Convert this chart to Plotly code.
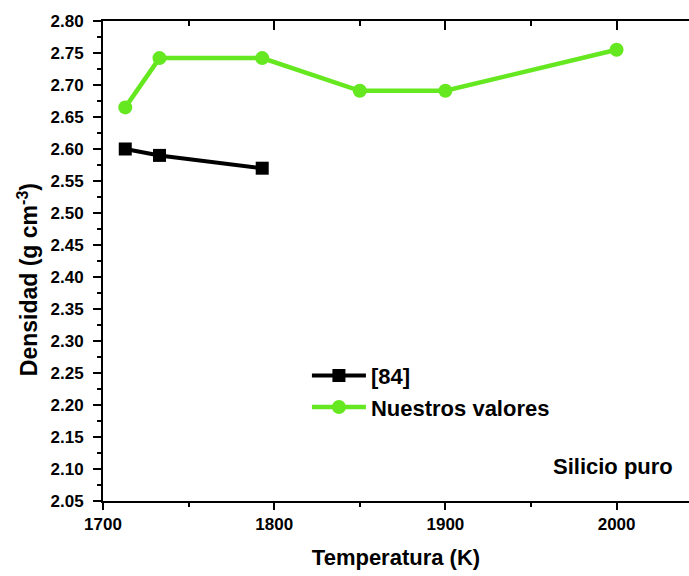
import plotly.graph_objects as go

# Density of pure silicon versus temperature
temp_ref84 = [1713, 1733, 1793]
dens_ref84 = [2.600, 2.590, 2.570]

temp_ours = [1713, 1733, 1793, 1850, 1900, 2000]
dens_ours = [2.665, 2.742, 2.742, 2.691, 2.691, 2.755]

x_ticks = [1700, 1800, 1900, 2000]
y_ticks = [round(2.05 + 0.05 * i, 2) for i in range(16)]

FONT = "Liberation Sans, Arial, sans-serif"
GREEN = "#66e820"

fig = go.Figure()

fig.add_trace(go.Scatter(
    x=temp_ref84, y=dens_ref84, name="[84]", mode="lines+markers",
    line=dict(color="black", width=4),
    marker=dict(symbol="square", size=13, color="black"),
))
fig.add_trace(go.Scatter(
    x=temp_ours, y=dens_ours, name="Nuestros valores", mode="lines+markers",
    line=dict(color=GREEN, width=4.5),
    marker=dict(symbol="circle", size=14, color=GREEN),
))

# top axis: tick marks only, pointing into the frame
fig.add_trace(go.Scatter(x=[None], y=[None], xaxis="x2", showlegend=False, hoverinfo="skip"))

x_range = [1700, 2042.3]

fig.update_layout(
    width=689, height=576,
    margin=dict(l=103, r=0, t=21, b=75),
    paper_bgcolor="white", plot_bgcolor="white",
    font=dict(family=FONT, color="black"),
    xaxis=dict(
        range=x_range, tickvals=x_ticks, ticktext=[str(v) for v in x_ticks],
        showline=True, linecolor="black", linewidth=2,
        ticks="outside", ticklen=7, tickwidth=2, tickcolor="black",
        minor=dict(dtick=50, ticks="outside", ticklen=4, tickwidth=2, tickcolor="black"),
        showgrid=False, zeroline=False,
        tickfont=dict(size=17, family=FONT, weight="bold"),
        title=dict(text="Temperatura (K)", font=dict(size=22, family=FONT, weight="bold"), standoff=16),
    ),
    xaxis2=dict(
        range=x_range, overlaying="x", side="top", anchor="y",
        tickvals=x_ticks, showticklabels=False,
        showline=True, linecolor="black", linewidth=2,
        ticks="inside", ticklen=9, tickwidth=2, tickcolor="black",
        minor=dict(dtick=50, ticks="inside", ticklen=5, tickwidth=2, tickcolor="black"),
        showgrid=False, zeroline=False,
    ),
    yaxis=dict(
        range=[2.05, 2.80], tickvals=y_ticks, tickformat=".2f",
        showline=True, linecolor="black", linewidth=2,
        ticks="outside", ticklen=8, tickwidth=2, tickcolor="black",
        minor=dict(dtick=0.025, tick0=2.05, ticks="outside", ticklen=4, tickwidth=2, tickcolor="black"),
        showgrid=False, zeroline=False, ticklabelstandoff=6,
        tickfont=dict(size=17, family=FONT, weight="bold"),
    ),
    legend=dict(
        x=0.348, y=0.305, xanchor="left", yanchor="top",
        bgcolor="rgba(0,0,0,0)", itemwidth=54, tracegroupgap=0,
        font=dict(size=22, family=FONT, weight="bold"),
    ),
    annotations=[
        dict(text="Densidad (g cm<sup>-3</sup>)", textangle=-90,
             xref="paper", yref="paper", x=-0.1280, y=0.462,
             xanchor="center", yanchor="middle", showarrow=False,
             font=dict(size=23, family=FONT, weight="bold")),
        dict(text="Silicio puro", xref="paper", yref="paper",
             x=(551 - 103) / 586, y=(500.7 - 466) / 480,
             xanchor="left", yanchor="middle", showarrow=False,
             font=dict(size=22, family=FONT, weight="bold")),
    ],
)

fig.write_html("out.html")
